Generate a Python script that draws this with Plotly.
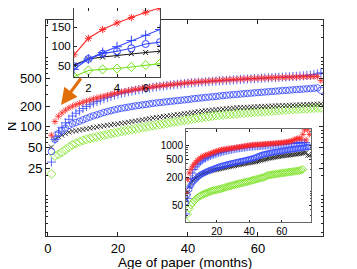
import math
import plotly.graph_objects as go

# window is 357x269; the page body has an 8px margin, so the figure is drawn 8px in
OFF = 8
W, H = 357 - OFF, 269 - OFF

# ---------------- main panel data (months 1..78) ----------------
months = list(range(1, 79))
red_main = [76, 120, 143, 160, 175, 189, 200, 210, 219, 228, 237, 246, 255, 264, 272, 280, 288, 296, 305, 314,
            321, 328, 336, 343, 350, 357, 363, 369, 376, 383, 389, 395, 400, 405, 411, 416, 421, 426, 431, 437,
            441, 445, 449, 453, 458, 462, 466, 470, 474, 478, 481, 484, 487, 490, 494, 497, 500, 503, 506, 509,
            511, 513, 515, 517, 519, 521, 523, 525, 527, 529, 530, 532, 534, 535, 536, 538, 540, 470]
plus_main = [31, 66, 84, 99, 115, 129, 144, 158, 171, 185, 198, 210, 222, 234, 245, 256, 267, 278, 289, 300,
             308, 316, 324, 332, 340, 347, 354, 361, 368, 375, 381, 387, 393, 399, 405, 410, 415, 420, 426, 432,
             436, 440, 444, 448, 452, 455, 459, 462, 466, 470, 473, 477, 480, 484, 488, 492, 495, 498, 502, 505,
             509, 512, 516, 519, 522, 525, 528, 531, 534, 537, 541, 546, 552, 558, 566, 575, 590, 610]
circ_main = [44, 66, 80, 88, 96, 105, 111, 116, 121, 127, 133, 139, 145, 150, 156, 162, 167, 172, 177, 182,
             186, 190, 194, 198, 202, 205, 209, 212, 216, 220, 223, 226, 229, 232, 235, 238, 241, 244, 247, 250,
             254, 258, 261, 264, 268, 271, 274, 277, 281, 285, 288, 291, 294, 297, 300, 303, 306, 309, 312, 315,
             318, 321, 324, 327, 330, 333, 336, 339, 342, 345, 348, 351, 354, 357, 360, 364, 368, 340]
x_main = [51, 66, 72, 76, 80, 84, 87, 88, 90, 92, 94, 96, 98, 100, 102, 104, 106, 107, 109, 111,
          113, 115, 117, 120, 122, 124, 127, 129, 132, 135, 137, 139, 142, 144, 146, 149, 151, 153, 156, 158,
          161, 164, 167, 170, 172, 174, 176, 178, 180, 182, 184, 186, 188, 190, 191, 192, 193, 194, 195, 197,
          198, 199, 200, 201, 202, 203, 204, 205, 206, 207, 208, 209, 210, 211, 212, 213, 214, 215]
green_main = [21, 38, 40, 43, 47, 51, 55, 58, 61, 64, 66, 68, 70, 72, 74, 76, 78, 80, 82, 84,
              86, 88, 90, 92, 94, 96, 98, 100, 102, 105, 107, 109, 111, 113, 116, 118, 120, 122, 125, 127,
              130, 132, 135, 137, 140, 142, 144, 146, 148, 150, 152, 153, 155, 156, 158, 159, 161, 162, 164, 165,
              167, 168, 170, 171, 173, 174, 176, 177, 179, 180, 181, 183, 184, 185, 187, 188, 189, 190]
main_ticks = [25, 50, 100, 200, 500]

# ---------------- inset 1 (first months, linear) ----------------
ins1_months = [1, 2, 3, 4, 5, 6, 7]
ins1_red = [78, 121, 144, 161, 175, 189, 200]
ins1_plus = [40, 67, 84, 99, 115, 129, 144]
ins1_circ = [48, 67, 81, 87, 95, 106, 111]
ins1_x = [51, 67, 72, 76, 81, 84, 87]
ins1_green = [21, 37, 40, 42, 46, 51, 55]

# ---------------- inset 2 (log) ----------------
red2 = [95, 180, 250, 300, 350, 390, 430, 470, 505, 540, 570, 590, 610, 630, 650, 670, 690, 710, 730, 755,
        775, 795, 810, 820, 830, 840, 850, 860, 870, 880, 890, 905, 915, 930, 945, 955, 965, 980, 995, 1005,
        1015, 1030, 1035, 1040, 1045, 1050, 1055, 1065, 1070, 1080, 1085, 1090, 1100, 1105, 1110, 1120, 1130, 1135, 1140, 1150,
        1160, 1175, 1190, 1210, 1230, 1260, 1300, 1350, 1400, 1420, 1440, 1380, 1750, 2200, 1320, 2200, 1750]
plus2 = [32, 70, 125, 190, 250, 300, 340, 380, 410, 440, 470, 500, 520, 545, 565, 585, 605, 625, 645, 665,
         680, 700, 715, 730, 745, 760, 775, 790, 800, 815, 830, 845, 855, 865, 875, 885, 895, 905, 915, 925,
         935, 945, 950, 955, 960, 965, 970, 975, 980, 990, 995, 1000, 1010, 1015, 1020, 1030, 1040, 1045, 1050, 1060,
         1070, 1080, 1090, 1095, 1100, 1110, 1120, 1125, 1130, 1140, 1150, 1150, 1140, 1150, 1160]
circ2 = [58, 85, 110, 135, 155, 170, 185, 200, 215, 228, 240, 252, 262, 272, 282, 292, 300, 310, 320, 330,
         340, 350, 358, 366, 374, 382, 390, 398, 406, 414, 422, 430, 438, 446, 454, 462, 470, 480, 490, 500,
         510, 520, 535, 550, 570, 590, 610, 625, 640, 655, 665, 675, 690, 700, 710, 720, 730, 740, 750, 760,
         770, 780, 790, 800, 810, 820, 830, 840, 850, 860, 870, 880, 890, 900, 915, 930, 940]
x2 = [66, 95, 125, 150, 170, 185, 198, 210, 220, 230, 238, 246, 254, 262, 270, 276, 282, 288, 293, 298,
      303, 308, 314, 320, 326, 332, 338, 344, 350, 356, 362, 368, 374, 380, 386, 392, 398, 404, 410, 416,
      422, 428, 434, 440, 450, 460, 470, 480, 490, 500, 510, 520, 530, 538, 546, 554, 562, 570, 578, 586,
      594, 600, 606, 612, 618, 624, 630, 638, 646, 654, 662, 670, 680, 690, 700, 610, 600]
green2 = [22, 32, 42, 50, 56, 62, 67, 72, 76, 80, 84, 87, 90, 93, 96, 99, 102, 104, 106, 108,
          110, 112, 115, 118, 121, 124, 127, 130, 133, 136, 139, 142, 145, 148, 151, 154, 157, 160, 163, 166,
          170, 174, 178, 182, 186, 190, 194, 198, 202, 212, 222, 225, 228, 231, 234, 237, 240, 243, 246, 249,
          252, 255, 258, 261, 264, 267, 270, 273, 276, 280, 285, 292, 300]
ins2_ticks = [50, 200, 500, 1000]

RED = "rgb(255,40,40)"
BLUE = "rgb(50,70,255)"
BLACK = "rgb(20,20,20)"
GREEN = "rgb(120,225,30)"
ORANGE = "rgb(225,110,10)"
FONT = "Liberation Sans, Arial, sans-serif"

fig = go.Figure()

def add_set(xa, ya, xs, series, mode, lw, mlw):
    for ys, sym, col, sz in series:
        fig.add_trace(go.Scatter(
            x=xs[:len(ys)], y=ys, xaxis=xa, yaxis=ya, mode=mode, showlegend=False,
            line=dict(color=col, width=lw),
            marker=dict(symbol=sym, size=sz, color=col, line=dict(color=col, width=mlw))))

main_series = [
    (green_main, "diamond-open", GREEN, 7),
    (x_main, "x-thin-open", BLACK, 5),
    (circ_main, "circle-open", BLUE, 6.5),
    (plus_main, "cross-thin-open", BLUE, 6.5),
    (red_main, "asterisk-open", RED, 5.5),
]
add_set("x", "y", months, main_series, "markers", 1, 0.8)

ins1_series = [
    (ins1_green, "diamond-open", GREEN, 7),
    (ins1_x, "x-thin-open", BLACK, 5),
    (ins1_circ, "circle-open", BLUE, 7),
    (ins1_plus, "cross-thin-open", BLUE, 7),
    (ins1_red, "asterisk-open", RED, 6),
]
add_set("x2", "y2", ins1_months, ins1_series, "lines+markers", 1.1, 1)

months2 = list(range(1, 78))
ins2_series = [
    (green2, "diamond-open", GREEN, 6),
    (x2, "x-thin-open", BLACK, 4.5),
    (circ2, "circle-open", BLUE, 5.5),
    (plus2, "cross-thin-open", BLUE, 5.5),
    (red2, "asterisk-open", RED, 5),
]
add_set("x3", "y3", months2, ins2_series, "markers", 1, 0.8)

# helpers: convert window pixel positions to figure paper coordinates
def px_x(a):
    return min(max((a - OFF) / W, 0), 1)

def px_y(y):
    return min(max((H - (y - OFF)) / H, 0), 1)

def dom_x(a, b):
    return [px_x(a), px_x(b)]

def dom_y(top, bottom):
    return [px_y(bottom), px_y(top)]

def minor_log(lo, hi, majors):
    vals = []
    for e in range(lo, hi + 1):
        for m in range(1, 10):
            v = m * 10 ** e
            if v not in majors:
                vals.append(v)
    return vals

ax_common = dict(showgrid=False, zeroline=False, showline=True, mirror="ticks",
                 ticks="inside", tickcolor="#222", linewidth=1, automargin=False,
                 ticklabeloverflow="allow")

# axis title first, so the tick-label texts are drawn above it
annots = [
    dict(text="N", x=px_x(12), y=px_y(127), xref="paper", yref="paper", showarrow=False,
         textangle=-90, font=dict(size=13), xanchor="center", yanchor="middle",
         bgcolor="rgba(0,0,0,0)", borderpad=0),
]
# main y tick labels as text placed on the main y axis scale
annots += [
    dict(text=str(v), x=px_x(43), y=math.log10(v), xref="paper", yref="y", showarrow=False,
         font=dict(size=13), xanchor="right", yanchor="middle", bgcolor="rgba(0,0,0,0)", borderpad=0)
    for v in main_ticks
]
annots += [
    dict(text="Age of paper (months)", x=px_x(184.5), y=px_y(262), xref="paper", yref="paper",
         showarrow=False, font=dict(size=13.5), xanchor="center", yanchor="middle"),
    dict(text="", x=px_x(61), y=px_y(105), xref="paper", yref="paper", showarrow=True,
         axref="pixel", ayref="pixel", ax=21, ay=-28, arrowcolor=ORANGE, arrowwidth=3,
         arrowhead=2, arrowsize=1.1, standoff=0),
]

fig.update_layout(
    width=W, height=H, margin=dict(l=0, r=0, t=0, b=0),
    paper_bgcolor="white", plot_bgcolor="white",
    font=dict(family=FONT, color="black"),
    xaxis=dict(domain=dom_x(46, 323), range=[-0.55, 78.6], tickvals=[0, 20, 40, 60],
               ticklen=4, linecolor="#333", tickfont=dict(size=13), **ax_common),
    yaxis=dict(domain=dom_y(20, 236), type="log", range=[0.42, 3.55],
               tickvals=main_ticks, showticklabels=False,
               ticklen=4, linecolor="#333",
               minor=dict(tickvals=minor_log(0, 3, main_ticks), ticks="inside", ticklen=2, tickcolor="#222"),
               **ax_common),
    xaxis2=dict(domain=dom_x(74, 160), anchor="y2", range=[1, 7], tickvals=[2, 4, 6],
                ticklen=3, linecolor="#444", tickfont=dict(size=11.5), **ax_common),
    yaxis2=dict(domain=dom_y(8, 77), anchor="x2", range=[20, 200], tickvals=[50, 100, 150],
                ticklen=3, linecolor="#444", tickfont=dict(size=11.5), **ax_common),
    xaxis3=dict(domain=dom_x(186, 311), anchor="y3", range=[1, 78], tickvals=[20, 40, 60],
                ticklen=2.5, linecolor="#666", tickfont=dict(size=10), **ax_common),
    yaxis3=dict(domain=dom_y(129, 222), anchor="x3", type="log", range=[1.33, 3.36],
                tickvals=ins2_ticks, ticktext=[str(v) for v in ins2_ticks],
                ticklen=2.5, linecolor="#666", tickfont=dict(size=10),
                minor=dict(tickvals=minor_log(1, 3, ins2_ticks), ticks="inside", ticklen=1.5, tickcolor="#444"),
                **ax_common),
    annotations=annots,
)

fig.write_html("out.html")
